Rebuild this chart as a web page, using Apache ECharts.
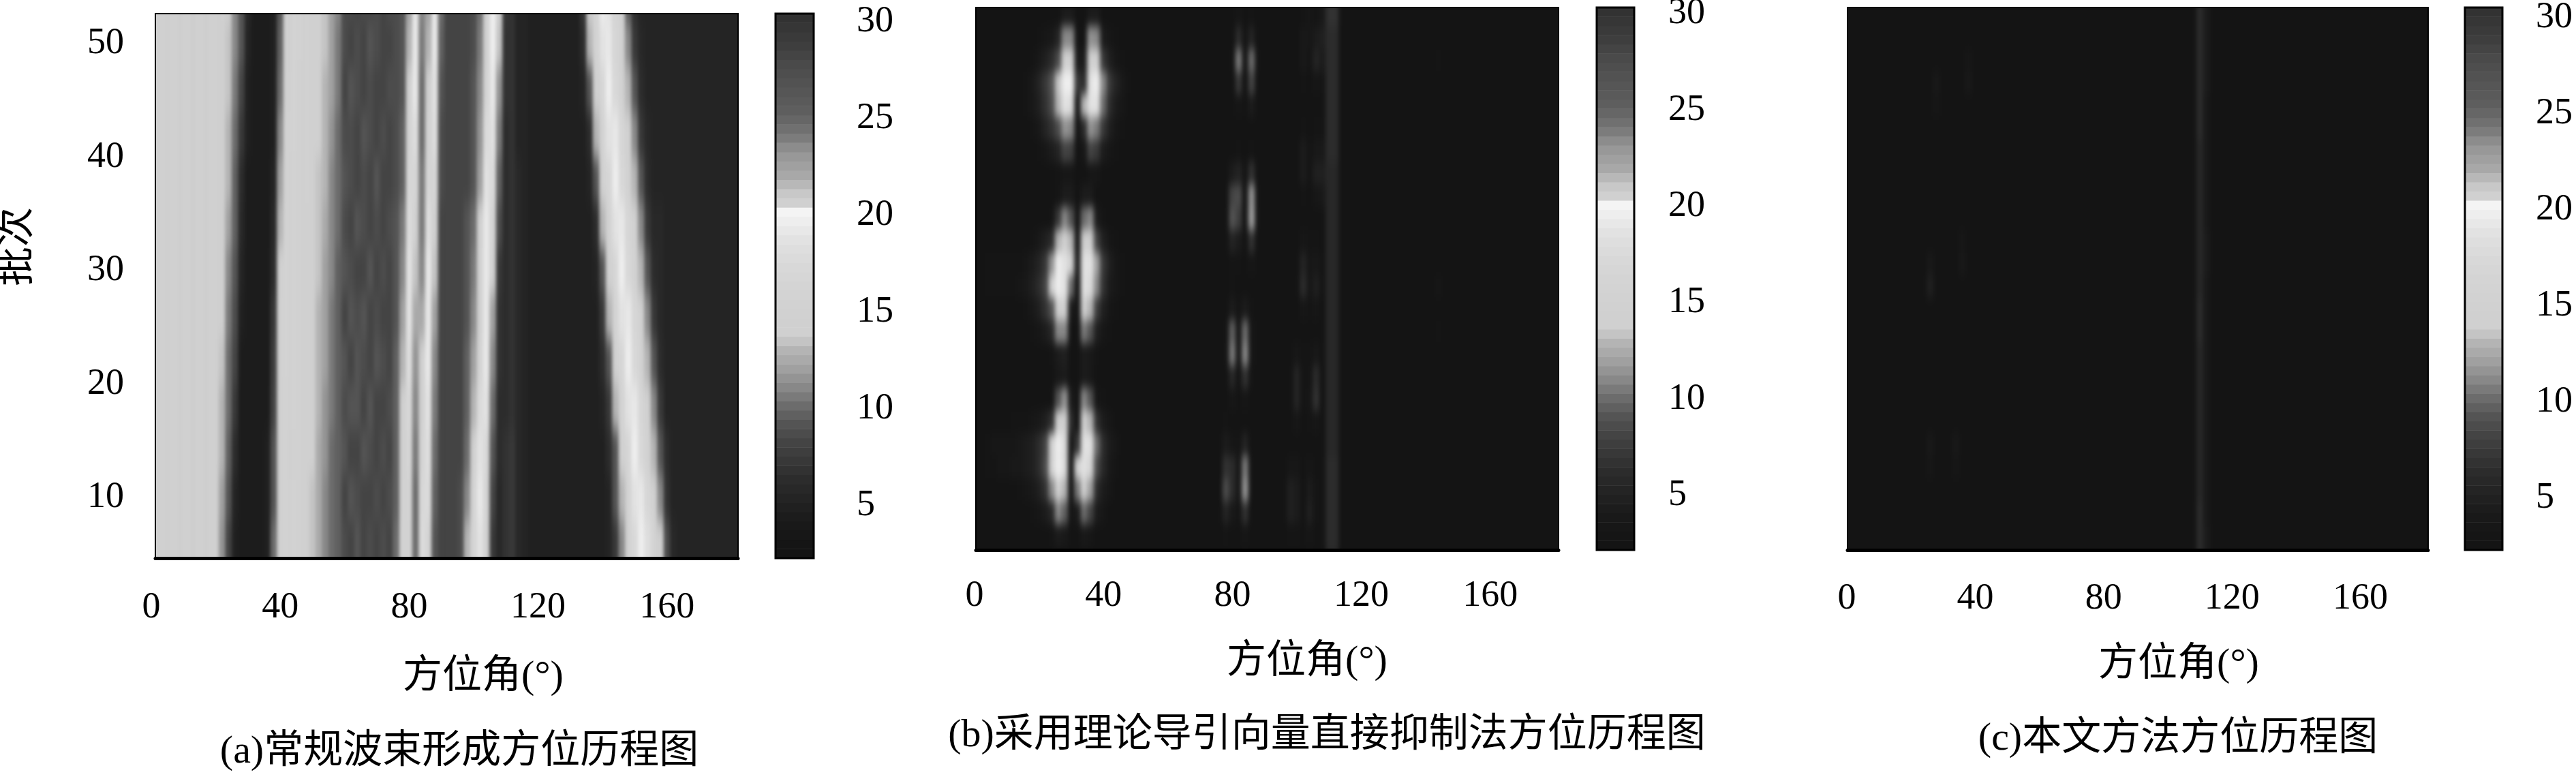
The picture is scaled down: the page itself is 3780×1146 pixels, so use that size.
<!DOCTYPE html>
<html lang="zh">

<head>
  <meta charset="UTF-8">
  <title>方位历程图</title>
  <script src="https://cdn.jsdelivr.net/npm/echarts@6/dist/echarts.min.js"></script>
  <style>
    html, body { margin: 0; height: 100%; background: #fff; overflow: hidden; }
    /* chart sticks out above and below the page so the blur has cells to work on past the frames */
    #main { position: absolute; left: 0; top: -120px; width: 3780px; height: 1386px; }
    #main canvas[data-zr-dom-id="zr_0"] { filter: url(#softA); clip-path: path('M228 140H1083V939H228Z'); }
    #main canvas[data-zr-dom-id="zr_1"] { filter: url(#softB); clip-path: path('M1432 131H2287V927H1432Z M2711 131H3563V927H2711Z'); }
  </style>
</head>

<body>
  <svg width="0" height="0" style="position:absolute">
    <filter id="softA" color-interpolation-filters="sRGB"><feGaussianBlur stdDeviation="2.8 15" /></filter>
    <filter id="softB" color-interpolation-filters="sRGB"><feGaussianBlur stdDeviation="3 8" /></filter>
  </svg>
  <div id="main"></div>

  <script>
    // azimuth cells, 2 deg wide
    const azCols = Array.from({ length: 92 }, (_, i) => i * 2);

    // colour bar: one grey per half unit
    const cbLevels = [1, 1.5, 2, 2.5, 3, 3.5, 4, 4.5, 5, 5.5, 6, 6.5, 7, 7.5, 8, 8.5, 9, 9.5, 10, 10.5, 11, 11.5, 12, 12.5, 13, 13.5, 14, 14.5, 15, 15.5, 16, 16.5, 17, 17.5, 18, 18.5, 19, 19.5, 20, 20.5, 21, 21.5, 22, 22.5, 23, 23.5, 24, 24.5, 25, 25.5, 26, 26.5, 27, 27.5, 28, 28.5, 29, 29.5, 30];
    const cbGray = [20, 21, 23, 25, 28, 32, 36, 40, 44, 50, 56, 62, 68, 76, 84, 96, 108, 122, 136, 148, 160, 170, 180, 196, 208, 208, 209, 210, 211, 212, 214, 216, 219, 222, 226, 232, 238, 244, 208, 200, 184, 168, 160, 152, 140, 124, 112, 102, 94, 90, 86, 82, 78, 74, 68, 62, 58, 54, 50];
    const cbTicks = [5, 10, 15, 20, 25];
    const cbLabels = [5, 10, 15, 20, 25, 30];
    const azLabels = [0, 40, 80, 120, 160];
    const batchLabels = [10, 20, 30, 40, 50];

    // panel a: batches 6,10..54, one row of 92 cells each
    const aBatch = [6, 10, 14, 18, 22, 26, 30, 34, 38, 42, 46, 50, 54];
    const aRows = [
      [13.5,13.5,13.5,13.5,13.5,13.5,13.5,13.5,13.5,13.5, 13,10.5,7,3.5,3,3,3,3,3.5,9, 14,14.5,14.5,14,13,12.5,11.5,10,9,8.5, 7.5,7,8,7,7.5,7,7.5,7,9,15, 15,9,17,15.5,8,7,7,7,7.5,12, 15.5,18,14,6,4.5,5.5,6,4.5,4,3.5, 3.5,3.5,3.5,3.5,3.5,3.5,3.5,3.5,3.5,3.5, 3.5,4,6,10,14.5,16.5,19,17.5,15,13, 7.5,4.5,4,4,4,4,4,4,4,4, 4,4],
      [13.5,13.5,13.5,13.5,13.5,13.5,13.5,13.5,13.5,13.5, 13,11,8,4,3,3,3,3,3.5,8, 14,14.5,14.5,14,13,12.5,11.5,10,9,8.5, 7,8,7.5,7,7,7.5,7,7.5,8.5,14.5, 15.5,9,16.5,17,8.5,7,7,7,7.5,10, 15,18.5,15.5,7,4.5,5.5,6,4.5,4,3.5, 3.5,3.5,3.5,3.5,3.5,3.5,3.5,3.5,3.5,3.5, 3.5,4,8,12,15,18,18.5,16,14,10, 5.5,4,4,4,4,4,4,4,4,4, 4,4],
      [13.5,13.5,13.5,13.5,13.5,13.5,13.5,13.5,13.5,13.5, 13,12,8.5,5,3,3,3,3,3.5,8, 14,14.5,14,14,13,13,11.5,10.5,9,8.5, 8,7,7,8,7.5,7,7.5,7,8.5,14, 16,9.5,15.5,17.5,9,7,7,7,7,9, 13,18,16.5,8,5,5.5,6,4.5,4,3.5, 3.5,3.5,3.5,3.5,3.5,3.5,3.5,3.5,3.5,3.5, 3.5,5,8,14,16,19,16.5,14.5,12,8, 5,4,4,4,4,4,4,4,4,4, 4,4],
      [13.5,13.5,13.5,13.5,13.5,13.5,13.5,13.5,13.5,13.5, 13.5,12,9,6,3,3,3,3,3,7, 14,14.5,14.5,14,13.5,13,12,10.5,9.5,8.5, 7.5,8,8,7,8,7,7,7.5,8.5,13, 16.5,10,14,18,9.5,7,7,7,7,8.5, 12,17,18,9,5,5,5.5,4.5,4,3.5, 3.5,3.5,3.5,3.5,3.5,3.5,3.5,3.5,3.5,3.5, 4,6,12,15,18,18.5,16,14,10,6, 4,4,4,4,4,4,4,4,4,4, 4,4],
      [13.5,13.5,13.5,13.5,13.5,13.5,13.5,13.5,13.5,13.5, 13.5,12.5,9,7,3,3,3,3,3,6.5, 14,15,14.5,14,13.5,13,12,11,9.5,8.5, 8,7,8,7.5,7,8,7.5,7,8.5,12, 17.5,10.5,13,18.5,10,7,7,7,7,8.5, 11,15.5,18.5,10,5.5,5,5.5,4.5,4,3.5, 3.5,3.5,3.5,3.5,3.5,3.5,3.5,3.5,3.5,3.5, 5,8,14,16,19,16.5,14.5,12,8,5, 4,4,4,4,4,4,4,4,4,4, 4,4],
      [13.5,13.5,13.5,13.5,13.5,13.5,13.5,13.5,13.5,13.5, 13.5,13,9.5,7.5,3.5,3,3,3,3,6, 14,15,14.5,14,13.5,13,12,11,9.5,8.5, 7,8,7.5,8,7,7.5,7,7,8,11, 18,11.5,11.5,18.5,11,7,7,7,7,8, 10,14,18.5,11,5.5,5,5.5,4.5,4,3.5, 3.5,3.5,3.5,3.5,3.5,3.5,3.5,3.5,3.5,3.5, 6,12,15,18,18.5,16,14,10,6,4.5, 4,4,4,4,4,4,4,4,4,4, 4,4],
      [13.5,13.5,13.5,13.5,13.5,13.5,13.5,13.5,13.5,13.5, 13.5,13,10,8,4,3,3,3,3,5, 13,15,14.5,14,13.5,13,12.5,11,10,8.5, 8,7.5,7,7,8,7,7.5,7,8,10, 18,12.5,10,18.5,12.5,7,7,7,7,8, 9.5,14,18.5,14,6,5,5.5,4.5,4,3.5, 3.5,3.5,3.5,3.5,3.5,3.5,3.5,3.5,3.5,4, 8,14,16,19,16.5,14.5,12,8,5,4.5, 4,4,4,4,4,4,4,4,4,4, 4,4],
      [13.5,13.5,13.5,13.5,13.5,13.5,13.5,13.5,13.5,13.5, 13.5,13,11,8.5,4.5,3,3,3,3,4.5, 12,15,14.5,14,13.5,13,12.5,11.5,10,9, 7.5,7,8,7.5,7,7.5,7,7.5,8,9.5, 17,14,9.5,17.5,14,7,7,7,7,8, 9,13,18.5,15.5,7.5,5,5.5,4.5,4,3.5, 3.5,3.5,3.5,3.5,3.5,3.5,3.5,3.5,3.5,5, 12,15,18,18.5,16,14,10,6,4.5,4.5, 4,4,4,4,4,4,4,4,4,4, 4,4],
      [13.5,13.5,13.5,13.5,13.5,13.5,13.5,13.5,13.5,13.5, 13.5,13,12,8.5,5,3,3,3,3,4, 11,15,14.5,14,14,13,12.5,12,10,9, 8,7.5,7,7.5,7,8,7,7,7.5,8.5, 16,16,9.5,16,16,7.5,7,7,7,7, 8,11,18,17,8.5,5,5.5,4.5,4,3.5, 3.5,3.5,3.5,3.5,3.5,3.5,3.5,3.5,4,8, 14,16,19,16.5,14.5,12,8,5,4,4, 4,4,4,4,4,4,4,4,4,4, 4,4],
      [13.5,13.5,13.5,13.5,13.5,13.5,13.5,13.5,13.5,13.5, 13.5,13.5,12,9,6,3.5,3,3,3,3.5, 10,15,15,14,14,13,13,12,10.5,9, 7.5,7.5,7,8,7.5,7,7.5,7,7.5,8.5, 15,17.5,9,15,17.5,7.5,7,7,7,7, 8,10.5,17,18,9.5,5,5.5,4,4,3.5, 3.5,3.5,3.5,3.5,3.5,3.5,3.5,3.5,5,12, 15,18,18.5,16,14,10,6,4.5,4,4, 4,4,4,4,4,4,4,4,4,4, 4,4],
      [13.5,13.5,13.5,13.5,13.5,13.5,13.5,13.5,13.5,13.5, 13.5,13.5,12.5,9.5,7,3.5,3,3,3,3.5, 9,14.5,15,14,14,13,13,12,11,9.5, 7,8,7.5,7,7.5,7,7,7.5,7.5,8, 13.5,18.5,9,13.5,18,8,7,7,7,7, 8,10,15.5,18.5,10.5,5.5,5.5,4,4,3.5, 3.5,3.5,3.5,3.5,3.5,3.5,3.5,4,8,14, 16,19,16.5,14.5,12,8,5,4,4,4, 4,4,4,4,4,4,4,4,4,4, 4,4],
      [13.5,13.5,13.5,13.5,13.5,13.5,13.5,13.5,13.5,13.5, 13.5,13.5,12.5,10,8,4,3,3,3,3.5, 8.5,14,15,14.5,14,13.5,13,12.5,11,9.5, 7.5,7,7.5,7,8,7.5,7,7,7.5,8, 12,18.5,9.5,12,18.5,8.5,7,7,7,7, 7.5,9.5,14,19,12.5,5.5,5.5,4,4,3.5, 3.5,3.5,3.5,3.5,3.5,3.5,3.5,5,12,15, 18,18.5,16,14,10,6,4.5,4,4,4, 4,4,4,4,4,4,4,4,4,4, 4,4],
      [13.5,13.5,13.5,13.5,13.5,13.5,13.5,13.5,13.5,13.5, 13.5,13.5,13,10,8,4.5,3,3,3,3.5, 8,14,15,14.5,14,13.5,13,12.5,11,10, 7.5,7.5,7,7.5,7,7.5,7,7.5,7.5,8, 11,18.5,10,11,18.5,9,7,7,7,7, 7.5,9,13,19,14,6,5.5,4,4,3.5, 3.5,3.5,3.5,3.5,3.5,3.5,3.5,6,13,15, 19,18,15.5,13,8,5,4,4,4,4, 4,4,4,4,4,4,4,4,4,4, 4,4]
    ];

    // panels b and c: batches 2,4..56, anything not listed stays at the floor value
    const hBatch = [2, 4, 6, 8, 10, 12, 14, 16, 18, 20, 22, 24, 26, 28, 30, 32, 34, 36, 38, 40, 42, 44, 46, 48, 50, 52, 54, 56];
    const floorValue = 1;

    // patches, first row is the top batch
    const bBlobTop = [ // az 14.., batch 52..38
      [1,1,1,1,1,1,1,3,3,1,1,3,3,1,1,1,1,1],
      [1,1,1,1.5,2,2.5,4,10,10,1.5,1.5,10.5,10,3,2,1.5,1,1],
      [1,1,1.5,2.5,3.5,5,7.5,13,13.5,3,3,13.5,13,6,3.5,2,1.5,1],
      [1,1.5,2.5,4,6,8,12.5,19,19,6,5,18,19,10,6,4,2.5,1.5],
      [1,1.5,2.5,3.5,5.5,7.5,12,18,17,1.5,12,18,18,9,5,3,2,1],
      [1,1,1.5,2.5,4,5.5,7.5,10.5,10,1.5,5,10.5,9.5,6,3.5,2,1.5,1],
      [1,1,1,1.5,2,3,4,7,6.5,1,2,7,6,3,2,1.5,1,1],
      [1,1,1,1,1,1,1.5,2,2,1,1,2,2,1,1,1,1,1]
    ];
    const bBlobMid = [ // az 4.., batch 36..22
      [1,1,1,1,1,1,1,1,1,1,1,1.5,3,3,1,3,3,1,1,1,1,1],
      [1,1,1,1,1,1,1,1,1,1,1.5,6,10,8,1.5,9,10,3,1.5,1,1,1],
      [1,1,1,1,1,1,1,1.5,2.5,3.5,5,12,14,12,1.5,13,13,7,3.5,2,1.5,1],
      [1.5,1.5,1.5,1.5,1.5,1.5,2,3,4,6,10.5,19,18,14,3,18,18,11,6,3.5,2,1.5],
      [1.5,1.5,1.5,1.5,1.5,2,2.5,3.5,5,7,13,19,18,9,1.5,18,17,10,5.5,3,2,1.5],
      [1,1,1,1,1,1,1.5,2.5,3.5,5.5,8,14,14,3,1.5,14,12,6.5,3.5,2,1.5,1],
      [1,1,1,1,1,1,1,1.5,2,3,4.5,10,10,1.5,1,9.5,8,3.5,2,1.5,1,1],
      [1,1,1,1,1,1,1,1,1,1,1.5,3,3.5,1,1,3,2.5,1.5,1,1,1,1]
    ];
    const bBlobLow = [ // az 4.., batch 20..6
      [1,1,1,1,1,1,1,1,1,1,1,2.5,3,1,1,3,2.5,1,1,1,1,1],
      [1,1,1,1,1,1,1,1,1,1,1.5,8,10.5,3,1.5,10,8,2,1.5,1,1,1],
      [1,1,1,1,1.5,1.5,1.5,2,2.5,3.5,5.5,13,14,5,1.5,14,12,5.5,3,2,1,1],
      [1.5,2,2,2,2,2.5,3,3.5,5,7,13,19,17,2,6,18,18,9,5,3,2,1],
      [1.5,1.5,2,2,2.5,2.5,3,3.5,5,7.5,14,19,17,1.5,14,18,16,7.5,4.5,2.5,1.5,1],
      [1,1,1,1,1,1.5,2,2.5,3.5,5.5,10,14,12,1.5,9.5,13.5,11,5,3,2,1,1],
      [1,1,1,1,1,1,1,1.5,2,3,4.5,10,8.5,1.5,3,9,7,3,2,1,1,1],
      [1,1,1,1,1,1,1,1,1,1,1.5,3,2.5,1,1,2.5,2,1,1,1,1,1]
    ];
    // az 76.. group, top batches 52, 40, 28, 16
    const bNear80A = [[1,1,1,2,1,1.5,1,1],[1,1,1,5,1.5,4,1,1],[1,1,1.5,9.5,1.5,9,1.5,1],[1,1,1,6,1,7,1,1],[1,1,1,2,1,3,1,1]];
    const bNear80B = [[1,1,1,1.5,1,1.5,1,1],[1,1,3,4,1.5,5.5,1,1],[1,1,7,7.5,1.5,10.5,1.5,1],[1,1,8,6.5,1.5,11,1.5,1],[1,1,4,3,1,5.5,1,1],[1,1,1.5,1.5,1,2,1,1]];
    const bNear80C = [[1,1,1.5,1,1,1,1,1],[1,1,3,1.5,3,1.5,1,1],[1,1.5,8.5,2,9,2,1,1],[1,1.5,9.5,2,10,2,1,1],[1,1,4.5,1.5,5.5,1.5,1,1],[1,1,2,1,2,1,1,1]];
    const bNear80D = [[1,1.5,1,1,1,1,1,1],[1,3,2,1.5,4,1,1,1],[1,5.5,5,2,9.5,1.5,1,1],[1,7.5,5,2,10.5,1.5,1,1],[1,4,2.5,1.5,5.5,1,1,1],[1,1.5,1,1,2,1,1,1]];
    // az 98.. group, top batches 52, 42, 32, 22, 12
    const bNear100A = [[1,1,1.5,2,1.5,2.5],[1,1,2.5,2,3,3.5],[1,1,2.5,1.5,4,3],[1,1,1.5,1,2,1.5]];
    const bNear100B = [[1,1,1.5,1,1.5,1.5],[1,1,3,1.5,2.5,2.5],[1,1,3,1.5,3.5,3.5],[1,1,1.5,1,2,2.5]];
    const bNear100C = [[1,1,2,1.5,1.5,1],[1,1,4,2,2.5,1.5],[1,1,5,2,3.5,1.5],[1,1,2,1.5,2,1]];
    const bNear100D = [[1,2,1.5,1.5,2.5,1],[1,4,1.5,1.5,5,1],[1,4,1.5,2,5.5,1],[1,2,1,1.5,2,1]];
    const bNear100E = [[2,2,1,2,1,1],[3.5,3,1,3,1.5,1],[3.5,3,1,3.5,1.5,1],[1.5,1.5,1,2,1,1]];
    // the steady line near 111 deg, one value per hBatch
    const bLine = [4.5,4.5,5,5,5,5,4.5,4.5,4.5,4.5,4.5,4.5,4.5,4.5,4.5,4.5,4.5,4.5,4.5,5,5,5,5,5,5,5.5,5.5,5.5];
    const bSpots = [[144, 48, 1.5], [144, 28, 2], [144, 24, 1.5]]; // az, batch, value

    const cLine110 = [5,5,5,5,4.5,4.5,4.5,4.5,4.5,4.5,4.5,5,5,4.5,4.5,4.5,4.5,4.5,4.5,4.5,5,5,5,5,5,5,5,5];
    const cLine112 = [3,3,3,2.5,2.5,2.5,2.5,2.5,2.5,2.5,2.5,2.5,2.5,2.5,3,3,2.5,2.5,2.5,2.5,2.5,2.5,3,3,3,3,3,3];
    const cSpots = [[28, 46, 2.5], [28, 44, 2], [38, 48, 2], [38, 46, 2.5], [26, 28, 3.5], [26, 30, 2.5], [36, 30, 2.5], [36, 32, 2], [26, 14, 2.5], [26, 12, 2], [34, 14, 2.5], [34, 12, 2]];

    const azName = '方位角(°)';
    const batchName = '批次';
    const captions = ['(a)常规波束形成方位历程图', '(b)采用理论导引向量直接抑制法方位历程图', '(c)本文方法方位历程图'];

    const OFF = 120; // page y -> chart y
    const FONT = '"Liberation Serif","Noto Sans CJK SC"';

    function emptyMatrix() {
      return hBatch.map(() => azCols.map(() => floorValue));
    }
    function paint(m, az, batchTop, patch) {
      patch.forEach((row, r) => {
        const y = (batchTop - r * 2 - 2) / 2;
        row.forEach((v, c) => { m[y][az / 2 + c] = Math.max(m[y][az / 2 + c], v); });
      });
    }
    function toCells(m) {
      const out = [];
      m.forEach((row, y) => row.forEach((v, x) => out.push([x, y, v])));
      return out;
    }

    const bMatrix = emptyMatrix();
    paint(bMatrix, 14, 52, bBlobTop);
    paint(bMatrix, 4, 36, bBlobMid);
    paint(bMatrix, 4, 20, bBlobLow);
    paint(bMatrix, 76, 52, bNear80A);
    paint(bMatrix, 76, 40, bNear80B);
    paint(bMatrix, 76, 28, bNear80C);
    paint(bMatrix, 76, 16, bNear80D);
    paint(bMatrix, 98, 52, bNear100A);
    paint(bMatrix, 98, 42, bNear100B);
    paint(bMatrix, 98, 32, bNear100C);
    paint(bMatrix, 98, 22, bNear100D);
    paint(bMatrix, 98, 12, bNear100E);
    bLine.forEach((v, i) => { bMatrix[i][55] = v; bMatrix[i][56] = v; });
    bSpots.forEach(s => { bMatrix[s[1] / 2 - 1][s[0] / 2] = s[2]; });

    const cMatrix = emptyMatrix();
    cLine110.forEach((v, i) => { cMatrix[i][55] = v; });
    cLine112.forEach((v, i) => { cMatrix[i][56] = v; });
    cSpots.forEach(s => { cMatrix[s[1] / 2 - 1][s[0] / 2] = s[2]; });

    // a gets one spare row past each end so the frame edge is not blurred against nothing
    const aBatchFull = [2].concat(aBatch, [58]);
    const aMatrix = [aRows[0]].concat(aRows, [aRows[aRows.length - 1]]);

    const panels = [
      { batch: aBatchFull, cell: 4, cells: toCells(aMatrix), zlevel: 0, L: 228, R: 1083, T: 20, B: 819, x0: 222, ppd: 4.73, xMargin: 46, barL: 1138, barR: 1194, tickMin: 0.96, tickMax: 30.06, labMin: 2.29, labMax: 30.42, labMargin: 63, showY: true, nameX: 709, nameY: 994, capX: 674, capY: 1104 },
      { batch: hBatch, cell: 2, cells: toCells(bMatrix), zlevel: 1, L: 1432, R: 2287, T: 11, B: 807, x0: 1430, ppd: 4.73, xMargin: 41, barL: 2343, barR: 2398, tickMin: 1.02, tickMax: 30.07, labMin: 2.17, labMax: 30.32, labMargin: 50, showY: false, nameX: 1918, nameY: 972, capX: 1947, capY: 1080 },
      { batch: hBatch, cell: 2, cells: toCells(cMatrix), zlevel: 1, L: 2711, R: 3563, T: 11, B: 807, x0: 2710, ppd: 4.71, xMargin: 45, barL: 3617, barR: 3672, tickMin: 0.95, tickMax: 30, labMin: 2.3, labMax: 30.53, labMargin: 49, showY: false, nameX: 3197, nameY: 976, capX: 3196, capY: 1085 }
    ];
    const batchMin = 4.65, batchMax = 52.65;
    const TOP = 2; // zlevel of everything that stays sharp

    const grid = [], xAxis = [], yAxis = [], series = [], graphic = [];

    function rect(left, width, top, height, extra) {
      grid.push(Object.assign({ left: left, width: width, top: top + OFF, height: height, show: false, zlevel: TOP }, extra));
      return grid.length - 1;
    }
    function hiddenCat(gridIndex, data, zlevel) {
      return { type: 'category', gridIndex: gridIndex, data: data, show: false, zlevel: zlevel };
    }
    function addText(text, x, y, rotation) {
      graphic.push({
        type: 'text', x: x, y: y + OFF, rotation: rotation || 0, zlevel: TOP,
        style: { text: text, fontSize: 58, fontFamily: FONT, fill: '#000', textAlign: 'center', textVerticalAlign: 'middle', align: 'center', verticalAlign: 'middle' }
      });
    }

    panels.forEach(p => {
      const ppb = (p.B - p.T) / (batchMax - batchMin);
      const cellLow = p.batch[0] - p.cell / 2;
      const cellHigh = p.batch[p.batch.length - 1] + p.cell / 2;

      // heat cells, running past the frame; dark behind them in case of seams
      let g = rect(p.x0 - p.ppd, p.ppd * 184, p.T + (batchMax - cellHigh) * ppb, (cellHigh - cellLow) * ppb, { zlevel: p.zlevel, show: true, borderWidth: 0, backgroundColor: '#141414' });
      xAxis.push(hiddenCat(g, azCols, p.zlevel));
      yAxis.push(hiddenCat(g, p.batch, p.zlevel));
      series.push({
        type: 'heatmap', xAxisIndex: xAxis.length - 1, yAxisIndex: yAxis.length - 1, zlevel: p.zlevel,
        data: p.cells, silent: true, progressive: 0, animation: false
      });

      // frame
      g = rect(p.L, p.R - p.L, p.T, p.B - p.T, { show: true, borderColor: '#000', borderWidth: 2, backgroundColor: 'transparent' });
      xAxis.push({
        type: 'value', gridIndex: g, min: 0, max: 10, zlevel: TOP, axisLabel: { show: false }, axisTick: { show: false }, splitLine: { show: false },
        axisLine: { show: true, onZero: false, lineStyle: { color: '#000', width: 5 } }
      });
      yAxis.push({ type: 'value', gridIndex: g, min: 0, max: 10, show: false, zlevel: TOP });

      // tick labels, axes start a little left of the frame in the source figure
      g = rect(p.x0, p.R - p.x0, p.T, p.B - p.T);
      xAxis.push({
        type: 'value', gridIndex: g, min: 0, max: (p.R - p.x0) / p.ppd, zlevel: TOP,
        axisLine: { show: false }, axisTick: { show: false }, splitLine: { show: false },
        axisLabel: { customValues: azLabels, margin: p.xMargin, fontSize: 54, fontFamily: FONT, color: '#000' }
      });
      yAxis.push({
        type: 'value', gridIndex: g, min: batchMin, max: batchMax, show: p.showY, zlevel: TOP,
        axisLine: { show: false }, axisTick: { show: false }, splitLine: { show: false },
        axisLabel: { customValues: batchLabels, margin: 40, fontSize: 54, fontFamily: FONT, color: '#000' }
      });

      // colour bar
      g = rect(p.barL, p.barR - p.barL, p.T, p.B - p.T, { show: true, borderColor: '#000', borderWidth: 3, backgroundColor: 'transparent', z: 8 });
      xAxis.push(hiddenCat(g, [''], TOP));
      const barX = xAxis.length - 1;
      yAxis.push(hiddenCat(g, cbLevels, TOP));
      series.push({
        type: 'heatmap', xAxisIndex: barX, yAxisIndex: yAxis.length - 1, zlevel: TOP,
        data: cbLevels.map((v, i) => [0, i, v]), silent: true, progressive: 0, animation: false
      });
      ['left', 'right'].forEach(side => {
        yAxis.push({
          type: 'value', gridIndex: g, position: side, min: p.tickMin, max: p.tickMax, zlevel: TOP,
          axisLine: { show: false }, splitLine: { show: false }, axisLabel: { show: false },
          axisTick: { show: true, inside: true, length: 9, customValues: cbTicks, lineStyle: { color: '#000', width: 3 } }
        });
      });
      yAxis.push({
        type: 'value', gridIndex: g, position: 'right', min: p.labMin, max: p.labMax, zlevel: TOP,
        axisLine: { show: false }, axisTick: { show: false }, splitLine: { show: false },
        axisLabel: { customValues: cbLabels, margin: p.labMargin, fontSize: 54, fontFamily: FONT, color: '#000' }
      });

      addText(azName, p.nameX, p.nameY);
      addText(captions[panels.indexOf(p)], p.capX, p.capY);
    });
    addText(batchName, 27, 362, Math.PI / 2);

    const myChart = echarts.init(document.getElementById('main'), null, { renderer: 'canvas' });
    myChart.setOption({
      animation: false,
      grid: grid,
      xAxis: xAxis,
      yAxis: yAxis,
      visualMap: {
        show: false, min: 1, max: 30, seriesIndex: series.map((s, i) => i),
        inRange: { color: cbGray.map(v => 'rgb(' + v + ',' + v + ',' + v + ')') }
      },
      graphic: { elements: graphic },
      series: series
    });
  </script>
</body>

</html>
